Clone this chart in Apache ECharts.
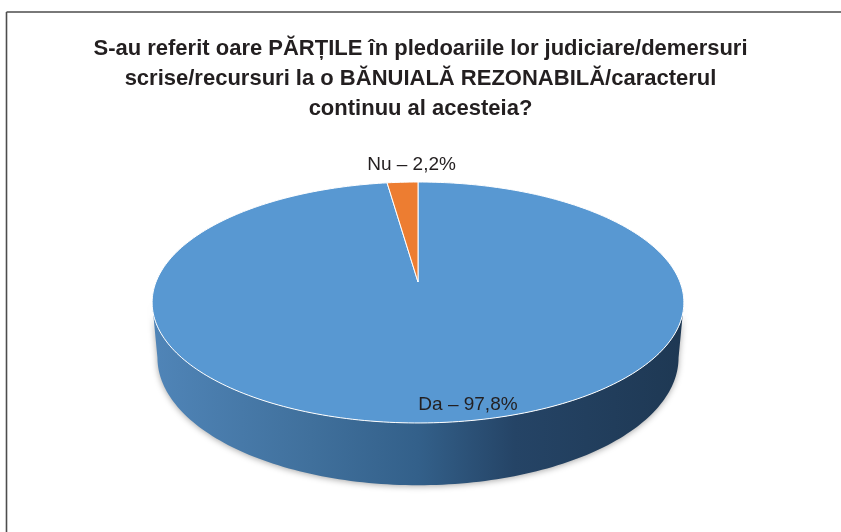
<!DOCTYPE html>
<html>
<head>
<meta charset="utf-8">
<script src="https://cdn.jsdelivr.net/npm/echarts@6/dist/echarts.min.js"></script>
<style>
  html, body { margin: 0; padding: 0; background: #fff; }
  #main { width: 841px; height: 532px; }
</style>
</head>
<body>
<div id="main"></div>
<script>
var titleLines = [
    'S-au referit oare PĂRȚILE în pledoariile lor judiciare/demersuri',
    'scrise/recursuri la o BĂNUIALĂ REZONABILĂ/caracterul',
    'continuu al acesteia?'
];
var categories = ['Da', 'Nu'];
var percents = [97.8, 2.2];
var labels = ['Da – 97,8%', 'Nu – 2,2%'];
var topColors = ['#5898d2', '#ed7d31'];

// 3D pie geometry (perspective projection of a tilted disc)
var cx = 418, cy = 282;      // projected centre of the top disc
var R = 262, H = 117;        // disc radius on screen, vertical half-axis
var K = 0.17;                // perspective strength
var DEPTH = 54, BOTTOM_SCALE = 0.98;

function project(theta, r, bottom) {
    var u = Math.sin(theta) * r, v = Math.cos(theta) * r;
    var w = 1 + K * v;
    var s = bottom ? BOTTOM_SCALE : 1;
    return [cx + R * u * s / w, cy + (-H * v * s + (bottom ? DEPTH : 0)) / w];
}

var total = percents.reduce(function (a, b) { return a + b; }, 0);
var startAngles = [];
var acc = 0;
percents.forEach(function (p) { startAngles.push(acc / total * Math.PI * 2); acc += p; });

var myChart = echarts.init(document.getElementById('main'));

function renderItem(params, api) {
    var i = params.dataIndex;
    var a0 = startAngles[i];
    var a1 = a0 + api.value(1) / total * Math.PI * 2;
    var children = [];
    var steps = Math.max(4, Math.ceil((a1 - a0) / 0.02));
    var pts = [[cx, cy]];
    for (var s = 0; s <= steps; s++) {
        pts.push(project(a0 + (a1 - a0) * s / steps, 1, false));
    }
    children.push({
        type: 'polygon',
        z2: 10,
        shape: { points: pts },
        style: { fill: topColors[i], stroke: '#ffffff', lineWidth: 1, lineJoin: 'round' }
    });

    // visible side wall: between silhouette angles
    var sil0 = Math.acos(-K), sil1 = Math.PI * 2 - Math.acos(-K);
    var w0 = Math.max(a0, sil0), w1 = Math.min(a1, sil1);
    if (w1 > w0) {
        var wall = [];
        var n = Math.ceil((w1 - w0) / 0.02);
        for (var j = 0; j <= n; j++) wall.push(project(w0 + (w1 - w0) * j / n, 1, false));
        for (var k = n; k >= 0; k--) wall.push(project(w0 + (w1 - w0) * k / n, 1, true));
        children.push({
            type: 'polygon',
            z2: 1,
            shape: { points: wall },
            style: {
                fill: new echarts.graphic.LinearGradient(150, 0, 686, 0, [
                    { offset: 0, color: '#5085b8' },
                    { offset: 0.3, color: '#40709c' },
                    { offset: 0.5, color: '#33608a' },
                    { offset: 0.68, color: '#254466' },
                    { offset: 1, color: '#1e3853' }
                ], true),
                shadowBlur: 6,
                shadowColor: 'rgba(0,0,0,0.35)',
                shadowOffsetY: 1
            }
        });
    }

    // label
    var mid = (a0 + a1) / 2;
    var lp = i === 0 ? project(mid, 0.85, false) : project(mid, 1, false);
    children.push({
        type: 'text',
        z2: 20,
        x: lp[0] + (i === 0 ? 32 : 9),
        y: lp[1] + (i === 0 ? 7 : -17),
        style: {
            text: labels[i],
            fill: '#231f20',
            font: '19px "Liberation Sans", sans-serif',
            align: 'center',
            verticalAlign: 'middle'
        }
    });
    return { type: 'group', children: children };
}

var option = {
    backgroundColor: '#ffffff',
    animation: false,
    title: {
        text: titleLines.join('\n'),
        left: 'center',
        top: 29,
        textStyle: {
            fontFamily: '"Liberation Sans", sans-serif',
            fontWeight: 'bold',
            fontSize: 22,
            lineHeight: 30,
            color: '#231f20'
        }
    },
    graphic: [
        { type: 'line', shape: { x1: 6.5, y1: 12, x2: 841, y2: 12 }, style: { stroke: '#4d4d4d', lineWidth: 1.6 } },
        { type: 'line', shape: { x1: 6.5, y1: 12, x2: 6.5, y2: 532 }, style: { stroke: '#4d4d4d', lineWidth: 1.6 } }
    ],
    series: [{
        type: 'custom',
        coordinateSystem: 'none',
        renderItem: renderItem,
        data: categories.map(function (c, i) { return [i, percents[i]]; })
    }]
};
myChart.setOption(option);
</script>
</body>
</html>
